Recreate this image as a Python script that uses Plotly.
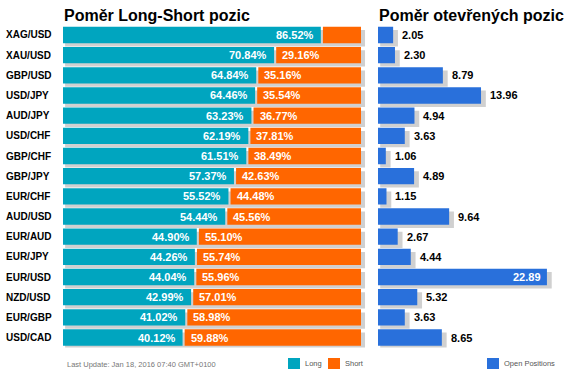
import plotly.graph_objects as go

pairs = ["XAG/USD", "XAU/USD", "GBP/USD", "USD/JPY", "AUD/JPY", "USD/CHF", "GBP/CHF", "GBP/JPY",
         "EUR/CHF", "AUD/USD", "EUR/AUD", "EUR/JPY", "EUR/USD", "NZD/USD", "EUR/GBP", "USD/CAD"]
long_pct = [86.52, 70.84, 64.84, 64.46, 63.23, 62.19, 61.51, 57.37, 55.52, 54.44, 44.90, 44.26, 44.04, 42.99, 41.02, 40.12]
short_pct = [13.48, 29.16, 35.16, 35.54, 36.77, 37.81, 38.49, 42.63, 44.48, 45.56, 55.10, 55.74, 55.96, 57.01, 58.98, 59.88]
open_pos = [2.05, 2.30, 8.79, 13.96, 4.94, 3.63, 1.06, 4.89, 1.15, 9.64, 2.67, 4.44, 22.89, 5.32, 3.63, 8.65]

W, H = 568, 375
def px(x): return x / W
def py(y): return 1 - y / H

FONT = "Liberation Sans, Arial, sans-serif"
TEAL = "#00A5BF"
ORANGE = "#FF6600"
BLUE = "#2970DB"
SHADOW = "#D0D0D0"
GAP = 0.7
BW = 0.81
SH_Y = 0.16

idx = list(range(len(pairs)))

fig = go.Figure()
# left shadows
fig.add_trace(go.Bar(y=[i + SH_Y for i in idx], x=[100.65 for _ in idx], base=[GAP] * len(idx),
                     orientation="h", width=BW, marker=dict(color=SHADOW, line=dict(width=0)),
                     xaxis="x", yaxis="y", showlegend=False, hoverinfo="skip"))
fig.add_trace(go.Bar(y=idx, x=long_pct, base=[0] * len(idx), orientation="h", width=BW,
                     marker=dict(color=TEAL, line=dict(width=0)), name="Long",
                     xaxis="x", yaxis="y", showlegend=False))
fig.add_trace(go.Bar(y=idx, x=[s - GAP for s in short_pct], base=[l + GAP for l in long_pct], orientation="h",
                     width=BW, marker=dict(color=ORANGE, line=dict(width=0)), name="Short",
                     xaxis="x", yaxis="y", showlegend=False))
# right shadows
fig.add_trace(go.Bar(y=[i + SH_Y for i in idx], x=[v + 0.35 for v in open_pos], base=[0.3] * len(idx),
                     orientation="h", width=BW, marker=dict(color=SHADOW, line=dict(width=0)),
                     xaxis="x2", yaxis="y2", showlegend=False, hoverinfo="skip"))
fig.add_trace(go.Bar(y=idx, x=open_pos, base=[0] * len(idx), orientation="h", width=BW,
                     marker=dict(color=BLUE, line=dict(width=0)), name="Open Positions",
                     xaxis="x2", yaxis="y2", showlegend=False))

ann = []
for i in idx:
    ann.append(dict(x=px(4), xref="paper", y=i, yref="y", text=f"<b>{pairs[i]}</b>", showarrow=False,
                    xanchor="left", yanchor="middle", font=dict(family=FONT, size=10, color="#000")))
    ann.append(dict(x=long_pct[i], xref="x", y=i, yref="y", text=f"<b>{long_pct[i]:.2f}%</b>", showarrow=False,
                    xanchor="right", yanchor="middle", xshift=-5,
                    font=dict(family=FONT, size=11, color="#fff")))
    if short_pct[i] >= 20:
        ann.append(dict(x=long_pct[i] + GAP, xref="x", y=i, yref="y", text=f"<b>{short_pct[i]:.2f}%</b>",
                        showarrow=False, xanchor="left", yanchor="middle", xshift=4,
                        font=dict(family=FONT, size=11, color="#fff")))
    v = open_pos[i]
    if v > 20:
        ann.append(dict(x=v, xref="x2", y=i, yref="y2", text=f"<b>{v:.2f}</b>", showarrow=False,
                        xanchor="right", yanchor="middle", xshift=-4,
                        font=dict(family=FONT, size=11, color="#fff")))
    else:
        ann.append(dict(x=v, xref="x2", y=i, yref="y2", text=f"<b>{v:.2f}</b>", showarrow=False,
                        xanchor="left", yanchor="middle", xshift=7,
                        font=dict(family=FONT, size=11, color="#000")))

# titles
ann.append(dict(x=px(62), y=py(16), xref="paper", yref="paper", text="<b>Poměr Long-Short pozic</b>",
                showarrow=False, xanchor="left", yanchor="middle", font=dict(family=FONT, size=16, color="#000")))
ann.append(dict(x=px(377), y=py(16), xref="paper", yref="paper", text="<b>Poměr otevřených pozic</b>",
                showarrow=False, xanchor="left", yanchor="middle", font=dict(family=FONT, size=16, color="#000")))
# footer
ann.append(dict(x=px(65), y=py(364), xref="paper", yref="paper", text="Last Update: Jan 18, 2016 07:40 GMT+0100",
                showarrow=False, xanchor="left", yanchor="middle", font=dict(family=FONT, size=7.5, color="#777")))
# legend keys
legend_items = [("Long", TEAL, 288), ("Short", ORANGE, 328), ("Open Positions", BLUE, 487)]
shapes = []
for name, col, x0 in legend_items:
    shapes.append(dict(type="rect", xref="paper", yref="paper", x0=px(x0), x1=px(x0 + 12),
                       y0=py(369), y1=py(358), fillcolor=col, line=dict(width=0)))
    ann.append(dict(x=px(x0 + 15), y=py(363), xref="paper", yref="paper", text=name, showarrow=False,
                    xanchor="left", yanchor="middle", font=dict(family=FONT, size=7.5, color="#555")))

ydom = [py(347.6), py(24.9)]
fig.update_layout(
    width=W, height=H, margin=dict(l=0, r=0, t=0, b=0),
    paper_bgcolor="white", plot_bgcolor="white", barmode="overlay",
    xaxis=dict(domain=[px(63), px(367)], range=[0, 304 / 2.98], visible=False, fixedrange=True),
    yaxis=dict(domain=ydom, range=[15.5, -0.5], visible=False, fixedrange=True),
    xaxis2=dict(domain=[px(378), 1], range=[0, 190 / 7.38], visible=False, fixedrange=True),
    yaxis2=dict(domain=ydom, range=[15.5, -0.5], visible=False, anchor="x2", fixedrange=True),
    annotations=ann, shapes=shapes, showlegend=False,
)
fig.write_html("out.html", config={"displayModeBar": False},
               post_script="document.body.style.margin='0';document.body.style.overflow='hidden';")
